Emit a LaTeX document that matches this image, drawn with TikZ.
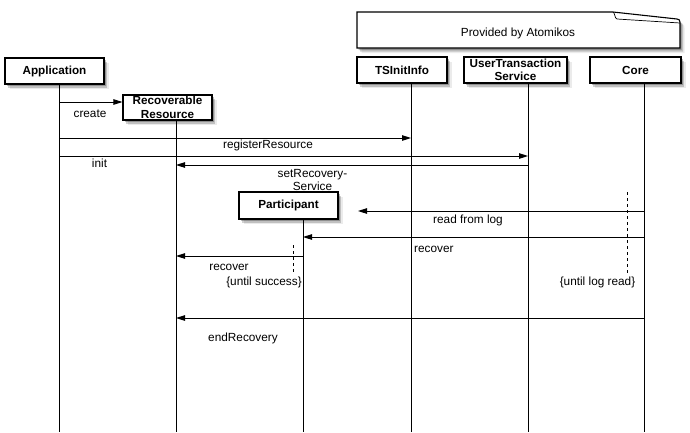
\documentclass[tikz,border=0pt]{standalone}
\usepackage{fontspec}
\setmainfont{Liberation Sans}
\usetikzlibrary{arrows.meta,shadows}
\begin{document}
\begin{tikzpicture}[x=1pt,y=-1pt,
  sh/.style={drop shadow={shadow xshift=1.5pt,shadow yshift=-2pt,opacity=0.25,fill=black},
             drop shadow={shadow xshift=3pt,shadow yshift=-3.5pt,opacity=0.18,fill=black},
             drop shadow={shadow xshift=4.5pt,shadow yshift=-5pt,opacity=0.08,fill=black}},
  lbl/.style={anchor=base,inner sep=0pt,font=\fontsize{11.8}{13}\selectfont},
  obj/.style={draw,line width=1.1pt,fill=white,inner sep=0pt,align=center,
              font=\fontsize{11.7}{13.5}\selectfont\bfseries,sh},
  life/.style={line width=0.9pt},
  msg/.style={line width=0.9pt,-{Triangle[length=9pt,width=5.5pt]}},
  loopline/.style={line width=0.7pt,dash pattern=on 3pt off 3pt}]
\useasboundingbox (0,0) rectangle (690,432);
\fill[white] (0,0) rectangle (690,432);

% lifeline x positions (bottom ends)
\coordinate (appL) at (59,432);
\coordinate (tsiL) at (411,432);
\coordinate (utsL) at (528,432);
\coordinate (coreL) at (644,432);
\coordinate (rrL) at (176,432);
\coordinate (partL) at (303,432);

% note
\path[draw,line width=1.1pt,fill=white,sh] (357,12) -- (613,12) -- (677,19)
  .. controls (679.5,19.5) .. (680,23) -- (680,48) -- (357,48) -- cycle;
\draw[line width=0.7pt] (613,12) .. controls (615,12.5) and (614.5,18.5) .. (617,19) -- (680,23);
\node[lbl] (note) at (518,36.5) {Provided by Atomikos};

% objects
\node[obj,minimum width=99pt,minimum height=26pt] (app) at (54.5,71) {Application};
\node[obj,minimum width=90pt,minimum height=26pt] (tsi) at (402,70) {TSInitInfo};
\node[obj,minimum width=103pt,minimum height=26pt] (uts) at (515.5,70) {UserTransaction\\Service};
\node[obj,minimum width=91pt,minimum height=26pt] (core) at (635.5,70) {Core};

% lifelines
\draw[life] (app.south -| appL) -- (appL);
\draw[life] (tsi.south -| tsiL) -- (tsiL);
\draw[life] (uts.south -| utsL) -- (utsL);
\draw[life] (core.south -| coreL) -- (coreL);

\node[obj,minimum width=89pt,minimum height=25pt] (rr) at (167.5,107.5) {Recoverable\\Resource};
\draw[life] (rr.south -| rrL) -- (rrL);

% messages
\draw[msg] (appL |- 0,102) -- (rr.west |- 0,102);
\node[lbl] (create) at (90,117) {create};

\draw[msg] (appL |- 0,138) -- (tsiL |- 0,138);
\node[lbl] (reg) at (268,148) {registerResource};

\draw[msg] (appL |- 0,156) -- (utsL |- 0,156);
\node[lbl] (init) at (99.5,167) {init};

\draw[msg] (utsL |- 0,165) -- (rrL |- 0,165);
\node[lbl] (setrec1) at (312.5,177) {setRecovery-};
\node[lbl] (setrec2) at (312.5,190) {Service};

\node[obj,minimum width=99pt,minimum height=27pt] (part) at (288.5,205.5) {Participant};
\draw[life] (part.south -| partL) -- (partL);

\coordinate (rfl) at (358,211);
\draw[msg] (coreL |- 0,211) -- (rfl);
\node[lbl] (readlog) at (468,223) {read from log};

\draw[msg] (coreL |- 0,237) -- (partL |- 0,237);
\node[lbl,anchor=base west] (rec1) at (414,252) {recover};

\draw[msg] (partL |- 0,256) -- (rrL |- 0,256);
\node[lbl] (rec2) at (229,270) {recover};

\coordinate (l1a) at (293,245);
\coordinate (l1b) at (293,273);
\draw[loopline] (l1a) -- (l1b);
\node[lbl] (until1) at (264,285) {\{until success\}};

\coordinate (l2a) at (627,192);
\coordinate (l2b) at (627,275);
\draw[loopline] (l2a) -- (l2b);
\node[lbl] (until2) at (597.5,285) {\{until log read\}};

\draw[msg] (coreL |- 0,318) -- (rrL |- 0,318);
\node[lbl] (endrec) at (243,341) {endRecovery};
\end{tikzpicture}
\end{document}
